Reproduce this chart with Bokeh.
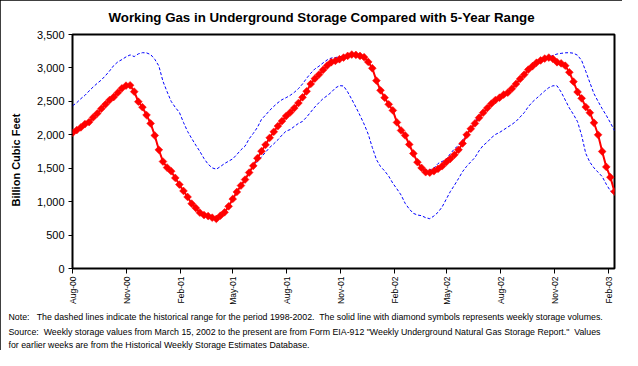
from datetime import datetime, timedelta
from math import pi

from bokeh.plotting import figure
from bokeh.models import (Range1d, FixedTicker, NumeralTickFormatter,
                          CustomJSTickFormatter, Title, ColumnDataSource, BoxAnnotation)
from bokeh.embed import file_html
from bokeh.resources import INLINE

# ---------------- data (Bcf, weekly, first week ending Aug 4, 2000) ----------------
first_week = datetime(2000, 8, 4)

storage = [2030, 2070, 2110, 2160, 2190, 2260, 2320, 2390, 2455, 2520,
           2565, 2630, 2695, 2735, 2740, 2645, 2495, 2413, 2295, 2170,
           1990, 1775, 1600, 1510, 1455, 1355, 1255, 1160, 1070, 970,
           905, 835, 800, 785, 760, 742, 790, 840, 930, 1040,
           1145, 1240, 1330, 1435, 1535, 1650, 1755, 1850, 1955, 2045,
           2130, 2205, 2280, 2335, 2400, 2475, 2560, 2650, 2760, 2840,
           2900, 2970, 3035, 3085, 3105, 3130, 3155, 3180, 3200, 3195,
           3180, 3160, 3090, 2995, 2810, 2665, 2555, 2455, 2365, 2185,
           2065, 1990, 1855, 1720, 1590, 1505, 1440, 1434, 1455, 1490,
           1530, 1590, 1640, 1700, 1775, 1870, 2000, 2090, 2170, 2255,
           2330, 2400, 2465, 2520, 2555, 2600, 2630, 2690, 2760, 2835,
           2900, 2975, 3025, 3078, 3112, 3140, 3155, 3135, 3085, 3068,
           3033, 2935, 2795, 2640, 2545, 2415, 2330, 2180, 2000, 1750,
           1520, 1365, 1150]

range_max = [2435, 2480, 2540, 2590, 2655, 2715, 2770, 2820, 2885, 2955,
             3035, 3090, 3125, 3165, 3195, 3170, 3210, 3228, 3225, 3200,
             3130, 3030, 2800, 2645, 2500, 2410, 2335, 2185, 2050, 1945,
             1845, 1750, 1645, 1560, 1505, 1485, 1525, 1570, 1605, 1640,
             1705, 1775, 1830, 1940, 2020, 2110, 2230, 2295, 2365, 2425,
             2480, 2525, 2555, 2590, 2635, 2690, 2760, 2845, 2920, 2985,
             3025, 3075, 3120, 3148, 3156, 3165, 3178, 3195, 3212, 3222,
             3210, 3180, 3100, 3000, 2815, 2665, 2555, 2455, 2365, 2185,
             2065, 1990, 1855, 1720, 1590, 1505, 1475, 1473, 1500, 1570,
             1600, 1635, 1715, 1790, 1840, 1920, 2010, 2095, 2200, 2290,
             2345, 2420, 2480, 2525, 2558, 2600, 2632, 2692, 2762, 2837,
             2902, 2977, 3028, 3080, 3115, 3142, 3160, 3188, 3208, 3218,
             3226, 3228, 3220, 3190, 3110, 2950, 2780, 2615, 2500, 2390,
             2290, 2180, 2060]

range_min = [2030, 2070, 2110, 2160, 2190, 2260, 2320, 2390, 2455, 2520,
             2565, 2630, 2695, 2735, 2740, 2645, 2495, 2413, 2295, 2170,
             1990, 1775, 1600, 1510, 1455, 1355, 1255, 1160, 1070, 970,
             905, 835, 800, 785, 760, 742, 790, 840, 930, 1040,
             1145, 1240, 1330, 1435, 1525, 1597, 1670, 1740, 1810, 1865,
             1925, 1995, 2055, 2078, 2125, 2170, 2200, 2265, 2340, 2415,
             2480, 2540, 2585, 2635, 2700, 2735, 2730, 2640, 2530, 2413,
             2290, 2160, 2010, 1810, 1630, 1525, 1460, 1380, 1275, 1190,
             1100, 975, 890, 825, 800, 790, 760, 745, 785, 840,
             920, 1035, 1150, 1245, 1345, 1450, 1530, 1595, 1660, 1760,
             1840, 1890, 1955, 2005, 2035, 2075, 2115, 2155, 2200, 2265,
             2330, 2420, 2490, 2545, 2600, 2655, 2705, 2733, 2733, 2640,
             2520, 2400, 2305, 2195, 1990, 1720, 1590, 1505, 1440, 1375,
             1260, 1160, 1110]

tick_dates = [datetime(2000, 8, 4), datetime(2000, 11, 4), datetime(2001, 2, 4),
              datetime(2001, 5, 4), datetime(2001, 8, 4), datetime(2001, 11, 4),
              datetime(2002, 2, 4), datetime(2002, 5, 4), datetime(2002, 8, 4),
              datetime(2002, 11, 4), datetime(2003, 2, 4)]
tick_labels = ["Aug-00", "Nov-00", "Feb-01", "May-01", "Aug-01", "Nov-01",
               "Feb-02", "May-02", "Aug-02", "Nov-02", "Feb-03"]
y_ticks = [0, 500, 1000, 1500, 2000, 2500, 3000, 3500]

title_text = "Working Gas in Underground Storage Compared with 5-Year Range"
y_title = "Billion Cubic Feet"
note_lines = [
    "Note:\u00a0\u00a0 The dashed lines indicate the historical range for the period 1998-2002.\u00a0 The solid line with diamond symbols represents weekly storage volumes.",
    "Source:\u00a0 Weekly storage values from March 15, 2002 to the present are from Form EIA-912 \"Weekly Underground Natural Gas Storage Report.\"\u00a0 Values",
    "for earlier weeks are from the Historical Weekly Storage Estimates Database.",
]

# ---------------- figure ----------------
weeks = [first_week + timedelta(days=7 * i) for i in range(len(storage))]
epoch = datetime(1970, 1, 1)
tick_ms = [(d - epoch).total_seconds() * 1000.0 for d in tick_dates]

src = ColumnDataSource(dict(week=weeks, storage=storage, hi=range_max, lo=range_min))

FONT = "Liberation Sans"
W, H = 622, 350

p = figure(width=W, height=H, output_backend="svg", toolbar_location=None,
           x_axis_type="datetime", title=None,
           x_range=Range1d(weeks[0] - timedelta(hours=6), weeks[-1]),
           y_range=Range1d(0, 3500),
           min_border_left=71, min_border_right=8, min_border_top=34,
           min_border_bottom=80)
p.styles = {"outline": "1px solid black", "outline-offset": "-1px"}
p.background_fill_color = "white"
p.border_fill_color = "white"
p.outline_line_color = "black"
p.outline_line_width = 2
p.grid.visible = False

# outer chart border
p.add_layout(BoxAnnotation(left=0.5, right=W - 0.5, top=0.5, bottom=H - 0.5,
                           left_units="canvas", right_units="canvas",
                           top_units="canvas", bottom_units="canvas",
                           fill_color=None, fill_alpha=0, line_color="black",
                           line_width=1, line_alpha=1, level="overlay"))

# y axis
p.yaxis.ticker = FixedTicker(ticks=y_ticks)
p.yaxis.formatter = NumeralTickFormatter(format="0,0")
p.yaxis.axis_line_color = None
p.yaxis.major_tick_out = 4
p.yaxis.major_tick_in = 0
p.yaxis.minor_tick_out = 0
p.yaxis.minor_tick_in = 0
p.yaxis.major_tick_line_color = "black"
p.yaxis.major_label_standoff = 4
p.yaxis.major_label_text_font = FONT
p.yaxis.major_label_text_font_size = "11px"
p.yaxis.major_label_text_color = "black"

# x axis
p.xaxis.ticker = FixedTicker(ticks=tick_ms)
p.xaxis.formatter = CustomJSTickFormatter(
    args=dict(tick_ms=tick_ms, tick_labels=tick_labels),
    code="""
let best = 0;
for (let i = 0; i < tick_ms.length; i++) {
  if (Math.abs(tick_ms[i] - tick) < Math.abs(tick_ms[best] - tick)) best = i;
}
return tick_labels[best];
""")
p.xaxis.axis_line_color = None
p.xaxis.major_tick_out = 5
p.xaxis.major_tick_in = 0
p.xaxis.minor_tick_out = 0
p.xaxis.minor_tick_in = 0
p.xaxis.major_tick_line_color = "black"
p.xaxis.major_label_orientation = pi / 2
p.xaxis.major_label_standoff = 3
p.xaxis.major_label_text_font = FONT
p.xaxis.major_label_text_font_size = "8.5px"
p.xaxis.major_label_text_color = "black"

# series
p.line("week", "hi", source=src, color="#0000FF", line_width=1, line_dash="3 2")
p.line("week", "lo", source=src, color="#0000FF", line_width=1, line_dash="3 2")
p.line("week", "storage", source=src, color="#FF0000", line_width=2)
p.scatter("week", "storage", source=src, marker="square", angle=pi / 4, size=5.5,
          fill_color="#FF0000", line_color="#FF0000", line_width=0.5)

# texts
p.add_layout(Title(text=title_text, align="left", offset=36, standoff=16,
                   vertical_align="top",
                   text_font=FONT, text_font_style="bold", text_font_size="13.3px",
                   text_color="black"), "above")
p.add_layout(Title(text=y_title, align="left", offset=62, standoff=19,
                   vertical_align="top",
                   text_font=FONT, text_font_style="bold", text_font_size="11px",
                   text_color="black"), "left")
for k, line in enumerate(note_lines):
    p.add_layout(Title(text=line, align="left", offset=-64, standoff=5 if k == 0 else 1,
                       text_font=FONT, text_font_style="normal", text_font_size="8.8px",
                       text_color="black"), "below")

open("out.html", "w").write(file_html(p, INLINE))
